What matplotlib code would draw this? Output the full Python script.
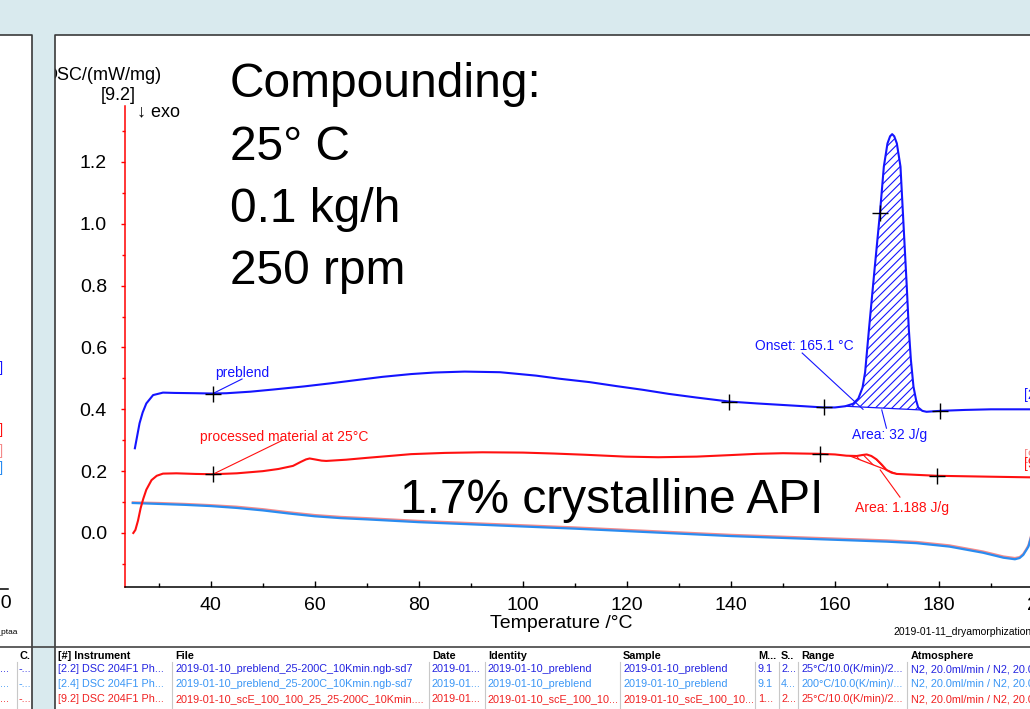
import matplotlib.pyplot as plt
import numpy as np
from matplotlib.patches import Rectangle

plt.rcParams['font.family'] = ['Liberation Sans', 'DejaVu Sans']
plt.rcParams['hatch.linewidth'] = 0.8

# [2.2] preblend, heating 25 -> 200 C
pre_T = [25.4, 25.8, 26.3, 26.9, 27.6, 28.9, 30.8, 33, 37.3, 40.4, 43, 47.6, 52, 57.9, 63,
         68.2, 73, 78.5, 83, 88.8, 95.6, 102.5, 107, 112.8, 118, 123.1, 128, 133.4, 139.7,
         145, 150, 154, 157.8, 160, 162.0, 163.5, 164.5, 165.3, 165.8, 166.6, 167.6, 168.65,
         169.4, 170.1, 170.6, 171.0, 171.4, 171.9, 172.6, 173.3, 173.8, 174.2, 174.6, 175.1,
         175.6, 176.0, 176.8, 177.6, 180.2, 185, 190, 200, 205]
pre_dsc = [0.274, 0.31, 0.355, 0.39, 0.419, 0.446, 0.454, 0.453, 0.452, 0.451, 0.452, 0.457,
           0.464, 0.474, 0.484, 0.495, 0.505, 0.514, 0.519, 0.522, 0.52, 0.509, 0.499, 0.488,
           0.475, 0.463, 0.45, 0.438, 0.425, 0.419, 0.414, 0.41, 0.406, 0.406, 0.41, 0.418,
           0.435, 0.47, 0.52, 0.67, 0.85, 1.034, 1.185, 1.26, 1.283, 1.29, 1.283, 1.26, 1.185,
           0.96, 0.80, 0.66, 0.56, 0.473, 0.43, 0.406, 0.395, 0.392, 0.395, 0.398, 0.4, 0.4, 0.4]

# [9.2] processed material at 25 C, heating 25 -> 200 C
proc_T = [25.1, 25.5, 26.0, 26.5, 27.0, 27.6, 28.6, 29.6, 30.8, 33.4, 37, 40.4, 45, 50, 53,
          55.8, 57.3, 58.3, 59, 60, 61.3, 62.2, 66, 70, 75, 78.5, 85, 92.2, 100, 105.9, 112,
          119.7, 126, 133.4, 140, 145, 150, 157.1, 160, 162.2, 164.2, 165.2, 166.1, 167, 168,
          169, 169.9, 170.9, 171.9, 175.7, 179.6, 190, 197.5, 205]
proc_dsc = [0.0, 0.01, 0.04, 0.08, 0.11, 0.14, 0.171, 0.185, 0.192, 0.193, 0.191, 0.19, 0.193,
            0.2, 0.207, 0.217, 0.23, 0.238, 0.241, 0.238, 0.234, 0.233, 0.237, 0.243, 0.25,
            0.255, 0.259, 0.261, 0.26, 0.257, 0.253, 0.247, 0.245, 0.247, 0.252, 0.256, 0.258,
            0.256, 0.254, 0.25, 0.249, 0.252, 0.254, 0.249, 0.238, 0.221, 0.204, 0.195, 0.191,
            0.188, 0.185, 0.182, 0.18, 0.18]

# [2.4] / [9.4] second segments (200 C back down)
cool_T = [25.0, 30, 35, 40, 45, 50, 55, 60, 65, 70, 80, 90, 100, 110, 120, 130, 140, 150, 160,
          170, 175.7, 182, 188.5, 192.4, 194.6, 195.5, 196.2, 196.8, 197.2, 197.6, 198.2, 199, 200]
cool_pre = [0.097, 0.094, 0.091, 0.087, 0.081, 0.073, 0.063, 0.054, 0.048, 0.044, 0.035, 0.028,
            0.021, 0.014, 0.006, -0.002, -0.01, -0.016, -0.022, -0.028, -0.033, -0.044, -0.064,
            -0.08, -0.085, -0.081, -0.071, -0.055, -0.044, -0.02, 0.02, 0.08, 0.12]
cool_proc = [0.099, 0.097, 0.094, 0.09, 0.085, 0.077, 0.067, 0.058, 0.052, 0.048, 0.039, 0.032,
             0.025, 0.018, 0.01, 0.002, -0.006, -0.012, -0.018, -0.024, -0.029, -0.04, -0.06,
             -0.076, -0.081, -0.078, -0.068, -0.052, -0.04, -0.016, 0.024, 0.084, 0.124]

# evaluation points (+ marks)
pre_marks_T = [40.4, 139.7, 157.8, 180.2, 168.65]
pre_marks_y = [0.451, 0.425, 0.406, 0.395, 1.034]
proc_marks_T = [40.4, 157.1, 179.6]
proc_marks_y = [0.19, 0.257, 0.185]

# peak integration baselines
pre_base_T = [162.0, 176.4]
pre_base_y = [0.41, 0.398]
proc_base_T = [162.9, 171.9]
proc_base_y = [0.249, 0.191]

onset_T = 165.4
onset_y = 0.40

# measurement table below the plot
table_header = ['[#] Instrument', 'File', 'Date', 'Identity', 'Sample', 'M...', 'S..', 'Range',
                'Atmosphere']
table_rows = [
    ['[2.2] DSC 204F1 Ph...', '2019-01-10_preblend_25-200C_10Kmin.ngb-sd7', '2019-01...',
     '2019-01-10_preblend', '2019-01-10_preblend', '9.1', '2...', '25°C/10.0(K/min)/2...',
     'N2, 20.0ml/min / N2, 20.0ml/min'],
    ['[2.4] DSC 204F1 Ph...', '2019-01-10_preblend_25-200C_10Kmin.ngb-sd7', '2019-01...',
     '2019-01-10_preblend', '2019-01-10_preblend', '9.1', '4...', '200°C/10.0(K/min)/...',
     'N2, 20.0ml/min / N2, 20.0ml/min'],
    ['[9.2] DSC 204F1 Ph...', '2019-01-10_scE_100_100_25_25-200C_10Kmin....', '2019-01...',
     '2019-01-10_scE_100_10...', '2019-01-10_scE_100_10...', '1...', '2...',
     '25°C/10.0(K/min)/2...', 'N2, 20.0ml/min / N2, 20.0ml/min'],
    ['[9.4] DSC 204F1 Ph...', '2019-01-10_scE_100_100_25_25-200C_10Kmin....', '2019-01...',
     '2019-01-10_scE_100_10...', '2019-01-10_scE_100_10...', '1...', '4...',
     '200°C/10.0(K/min)/...', 'N2, 20.0ml/min / N2, 20.0ml/min'],
]

BLUE = '#1414ff'
LBLUE = '#2a8cf0'
RED = '#ff1010'
PINK = '#f48a8a'
row_colors = ['#2323e0', '#3a96f5', '#f02020', '#f08888']

W, H = 1030, 709
fig = plt.figure(figsize=(W / 100, H / 100), dpi=100, facecolor='#d9eaee')

# pixel-coordinate layer for panels, headings and the table
bg = fig.add_axes([0, 0, 1, 1], zorder=0)
bg.set_xlim(0, W)
bg.set_ylim(H, 0)
bg.axis('off')
bg.add_patch(Rectangle((-5, 35), 36.5, 700, facecolor='white', edgecolor='none', zorder=1))
bg.add_patch(Rectangle((55, 35), 1000, 700, facecolor='white', edgecolor='none', zorder=1))
bg.add_patch(Rectangle((31.5, 35), 23.5, 700, facecolor='#d9eaee', edgecolor='none', zorder=5))
bg.plot([-5, 31.5, 31.5], [35, 35, 709], color='#3a3a3a', lw=1.2, zorder=6)
bg.plot([55, 55, 1040], [709, 35, 35], color='#3a3a3a', lw=1.2, zorder=6)

# axis captions
bg.text(162, 76, 'DSC/(mW/mg)', ha='right', va='center', fontsize=13, zorder=3)
bg.text(118, 96, '[9.2]', ha='center', va='center', fontsize=13, zorder=3)
bg.text(137, 112, '↓ exo', ha='left', va='center', fontsize=13, zorder=3)
bg.text(561, 623, 'Temperature /°C', ha='center', va='center', fontsize=14, zorder=3)
bg.text(893, 632, '2019-01-11_dryamorphization_25C.ngb', ha='left', va='center',
        fontsize=7.5, zorder=3)

# process conditions
for txt, yb in zip(['Compounding:', '25° C', '0.1 kg/h', '250 rpm'], [97, 160, 222, 284]):
    bg.text(230, yb, txt, ha='left', va='baseline', fontsize=34.5, zorder=3)
bg.text(400, 513, '1.7% crystalline API', ha='left', va='baseline', fontsize=34.5, zorder=3)

# curve tags on the right edge
bg.text(1024, 395, '[2.2]', color=BLUE, fontsize=10, va='center', zorder=3)
bg.text(1024, 456, '[9.4]', color=PINK, fontsize=10, va='center', zorder=3)
bg.text(1024, 464, '[9.2]', color=RED, fontsize=10, va='center', zorder=3)

# neighbouring chart fragments in the left panel
for c, yy in zip([BLUE, RED, PINK, LBLUE], [368, 430, 451, 468]):
    bg.text(3, yy, '[2.2]', color=c, fontsize=10, ha='right', va='center', zorder=3)
bg.text(12, 604, '200', fontsize=14, ha='right', va='center', zorder=3)
bg.plot([-2, 8], [589, 589], color='black', lw=1.1, zorder=3)
bg.text(18, 632, 'dryamorphization_2019-01-11_ptaa', fontsize=6, ha='right', va='center', zorder=3)
bg.text(20, 656, 'C.', fontsize=7.8, fontweight='bold', va='center', zorder=3)
bg.plot([17, 17], [662, 709], color='#c8c8c8', lw=0.8, zorder=2)
for c, yy in zip(row_colors, [669, 684, 699, 714]):
    bg.text(0, yy, '...', color=c, fontsize=7.8, va='center', zorder=3)
    bg.text(19, yy, '-...', color=c, fontsize=7.8, va='center', zorder=3)

# table
col_x = [58, 175, 432, 488, 623, 758, 781, 801, 911]
sep_x = [172, 429, 485, 620, 755, 779, 798, 907]
row_y = [669, 684, 699, 714]
bg.plot([0, W], [647, 647], color='#444444', lw=1.2, zorder=6)
for x in sep_x:
    bg.plot([x, x], [662, 712], color='#c8c8c8', lw=0.8, zorder=2)
for x, name in zip(col_x, table_header):
    bg.text(x, 656, name, fontsize=7.8, fontweight='bold', va='center', zorder=3)
for row, yy, c in zip(table_rows, row_y, row_colors):
    for x, cell in zip(col_x, row):
        bg.text(x, yy, cell, color=c, fontsize=7.8, va='center', zorder=3)

# DSC plot
ax = fig.add_axes([125 / W, (H - 587) / H, (1069 - 125) / W, (587 - 106) / H],
                  facecolor='none', zorder=2)
ax.set_xlim(23.5, 205)
ax.set_ylim(-0.1747, 1.381)

ax.plot(cool_T, cool_proc, color=PINK, lw=1.6, zorder=2)
ax.plot(cool_T, cool_pre, color=LBLUE, lw=1.6, zorder=2)
ax.plot(pre_T, pre_dsc, color=BLUE, lw=1.5, zorder=3)
ax.plot(proc_T, proc_dsc, color=RED, lw=1.5, zorder=3)

# hatched peak areas
pT = np.array(pre_T)
m = (pT >= pre_base_T[0]) & (pT <= pre_base_T[1])
ax.fill_between(pT[m], np.array(pre_dsc)[m], np.interp(pT[m], pre_base_T, pre_base_y),
                facecolor='none', edgecolor=BLUE, hatch='////', lw=0, zorder=2)
ax.plot(pre_base_T, pre_base_y, color=BLUE, lw=0.9, zorder=2)
rT = np.array(proc_T)
m = (rT >= proc_base_T[0]) & (rT <= proc_base_T[1])
ax.fill_between(rT[m], np.array(proc_dsc)[m], np.interp(rT[m], proc_base_T, proc_base_y),
                facecolor='none', edgecolor=RED, hatch='\\\\\\\\', lw=0, zorder=2)
ax.plot(proc_base_T, proc_base_y, color=RED, lw=0.9, zorder=2)

ax.plot(pre_marks_T, pre_marks_y, '+', color='black', ms=11, mew=1.0, zorder=5)
ax.plot(proc_marks_T, proc_marks_y, '+', color='black', ms=11, mew=1.0, zorder=5)

# labels with leader lines
ax.text(40.8, 0.517, 'preblend', color=BLUE, fontsize=10, va='center')
ax.plot([46, 40.4], [0.498, 0.451], color=BLUE, lw=0.8)
ax.text(37.9, 0.31, 'processed material at 25°C', color=RED, fontsize=10, va='center')
ax.plot([53.8, 40.4], [0.30, 0.19], color=RED, lw=0.8)
ax.text(144.6, 0.605, 'Onset: 165.1 °C', color=BLUE, fontsize=10, va='center')
ax.plot([153.7, onset_T], [0.582, onset_y], color=BLUE, lw=0.8)
ax.text(163.3, 0.317, 'Area: 32 J/g', color=BLUE, fontsize=10, va='center')
ax.plot([169.0, 169.9], [0.398, 0.339], color=BLUE, lw=0.8)
ax.text(163.8, 0.081, 'Area: 1.188 J/g', color=RED, fontsize=10, va='center')
ax.plot([168.7, 172.5], [0.204, 0.116], color=RED, lw=0.8)

for s in ['top', 'right']:
    ax.spines[s].set_visible(False)
ax.spines['left'].set_color('red')
ax.spines['left'].set_linewidth(1.1)
ax.spines['bottom'].set_linewidth(1.1)

ax.set_xticks(np.arange(40, 201, 20))
ax.set_xticks(np.arange(30, 201, 20), minor=True)
ax.set_yticks(np.arange(0, 1.21, 0.2))
ax.set_yticks(np.arange(-0.1, 1.31, 0.2), minor=True)
ax.set_yticklabels(['%.1f' % v for v in np.arange(0, 1.21, 0.2)])
ax.tick_params(axis='x', which='both', direction='in', labelsize=14, pad=7, width=1)
ax.tick_params(axis='x', which='major', length=4)
ax.tick_params(axis='x', which='minor', length=3)
ax.tick_params(axis='y', which='both', direction='out', color='red', labelsize=14, pad=10,
               width=1)
ax.tick_params(axis='y', which='major', length=3)
ax.tick_params(axis='y', which='minor', length=2)

fig.savefig('out.png', dpi=100, facecolor=fig.get_facecolor())
